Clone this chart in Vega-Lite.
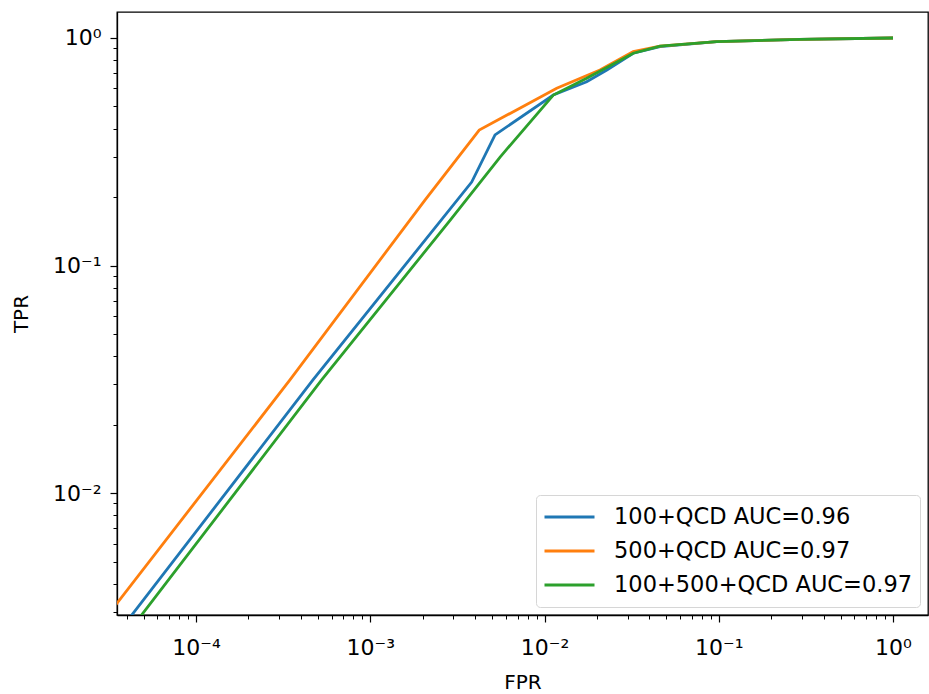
{
  "$schema": "https://vega.github.io/schema/vega-lite/v6.json",
  "width": 811,
  "height": 603,
  "autosize": {"type": "none"},
  "padding": {"left": 117, "top": 12, "right": 1, "bottom": 79},
  "background": "white",
  "config": {
    "font": "DejaVu Sans",
    "view": {"stroke": "black", "strokeWidth": 1.3},
    "axis": {"grid": false, "domainColor": "black", "domainWidth": 1.3, "tickColor": "black", "tickWidth": 1.2, "labelColor": "black", "titleColor": "black", "labelFont": "DejaVu Sans", "titleFont": "DejaVu Sans", "titleFontWeight": "normal"},
    "legend": {"labelFont": "DejaVu Sans"}
  },
  "data": {"values": [
    {"series": "100+QCD AUC=0.96", "k": 0, "fpr": 0.00004, "tpr": 0.00272},
    {"series": "100+QCD AUC=0.96", "k": 1, "fpr": 0.000469, "tpr": 0.0314},
    {"series": "100+QCD AUC=0.96", "k": 2, "fpr": 0.00382, "tpr": 0.2328},
    {"series": "100+QCD AUC=0.96", "k": 3, "fpr": 0.0052, "tpr": 0.375},
    {"series": "100+QCD AUC=0.96", "k": 4, "fpr": 0.01123, "tpr": 0.5616},
    {"series": "100+QCD AUC=0.96", "k": 5, "fpr": 0.01746, "tpr": 0.642},
    {"series": "100+QCD AUC=0.96", "k": 6, "fpr": 0.0228, "tpr": 0.723},
    {"series": "100+QCD AUC=0.96", "k": 7, "fpr": 0.0323, "tpr": 0.857},
    {"series": "100+QCD AUC=0.96", "k": 8, "fpr": 0.046, "tpr": 0.916},
    {"series": "100+QCD AUC=0.96", "k": 9, "fpr": 0.0973, "tpr": 0.963},
    {"series": "100+QCD AUC=0.96", "k": 10, "fpr": 0.292, "tpr": 0.987},
    {"series": "100+QCD AUC=0.96", "k": 11, "fpr": 1.0, "tpr": 1.0},
    {"series": "500+QCD AUC=0.97", "k": 0, "fpr": 0.00003, "tpr": 0.0028},
    {"series": "500+QCD AUC=0.97", "k": 1, "fpr": 0.000346, "tpr": 0.0314},
    {"series": "500+QCD AUC=0.97", "k": 2, "fpr": 0.00206, "tpr": 0.194},
    {"series": "500+QCD AUC=0.97", "k": 3, "fpr": 0.00422, "tpr": 0.394},
    {"series": "500+QCD AUC=0.97", "k": 4, "fpr": 0.01175, "tpr": 0.601},
    {"series": "500+QCD AUC=0.97", "k": 5, "fpr": 0.0208, "tpr": 0.723},
    {"series": "500+QCD AUC=0.97", "k": 6, "fpr": 0.0323, "tpr": 0.871},
    {"series": "500+QCD AUC=0.97", "k": 7, "fpr": 0.046, "tpr": 0.922},
    {"series": "500+QCD AUC=0.97", "k": 8, "fpr": 0.0973, "tpr": 0.963},
    {"series": "500+QCD AUC=0.97", "k": 9, "fpr": 0.292, "tpr": 0.987},
    {"series": "500+QCD AUC=0.97", "k": 10, "fpr": 1.0, "tpr": 1.0},
    {"series": "100+500+QCD AUC=0.97", "k": 0, "fpr": 0.00004, "tpr": 0.00239},
    {"series": "100+500+QCD AUC=0.97", "k": 1, "fpr": 0.000526, "tpr": 0.0314},
    {"series": "100+500+QCD AUC=0.97", "k": 2, "fpr": 0.00287, "tpr": 0.158},
    {"series": "100+500+QCD AUC=0.97", "k": 3, "fpr": 0.00556, "tpr": 0.2998},
    {"series": "100+500+QCD AUC=0.97", "k": 4, "fpr": 0.01123, "tpr": 0.5616},
    {"series": "100+500+QCD AUC=0.97", "k": 5, "fpr": 0.01746, "tpr": 0.665},
    {"series": "100+500+QCD AUC=0.97", "k": 6, "fpr": 0.0323, "tpr": 0.857},
    {"series": "100+500+QCD AUC=0.97", "k": 7, "fpr": 0.046, "tpr": 0.922},
    {"series": "100+500+QCD AUC=0.97", "k": 8, "fpr": 0.0973, "tpr": 0.963},
    {"series": "100+500+QCD AUC=0.97", "k": 9, "fpr": 0.292, "tpr": 0.987},
    {"series": "100+500+QCD AUC=0.97", "k": 10, "fpr": 1.0, "tpr": 1.0}
  ]},
  "layer": [
    {
      "mark": {"type": "line", "clip": true, "strokeWidth": 2.8},
      "encoding": {
        "x": {"field": "fpr", "type": "quantitative",
          "scale": {"type": "log", "domain": [0.0000352, 1.588], "nice": false, "zero": false},
          "axis": {"orient": "bottom", "title": "FPR", "titleFontSize": 20, "titlePadding": 14, "values": [0.0001, 0.001, 0.01, 0.1, 1], "tickSize": 7, "labelFontSize": 22, "labelPadding": 15,
            "labelExpr": "['10⁻⁴','10⁻³','10⁻²','10⁻¹','10⁰'][round(log(datum.value)/LN10)+4]"}},
        "y": {"field": "tpr", "type": "quantitative",
          "scale": {"type": "log", "domain": [0.00291, 1.301], "nice": false, "zero": false},
          "axis": {"orient": "left", "title": "TPR", "titleFontSize": 20, "titlePadding": 21, "values": [0.01, 0.1, 1], "tickSize": 7, "labelFontSize": 22, "labelPadding": 9,
            "labelExpr": "['10⁻²','10⁻¹','10⁰'][round(log(datum.value)/LN10)+2]"}},
        "color": {"field": "series", "type": "nominal",
          "scale": {"domain": ["100+QCD AUC=0.96", "500+QCD AUC=0.97", "100+500+QCD AUC=0.97"], "range": ["#1f77b4", "#ff7f0e", "#2ca02c"]},
          "legend": {"title": null, "orient": "bottom-right", "offset": 8, "symbolType": "stroke", "symbolSize": 2500, "symbolStrokeWidth": 3, "labelFontSize": 22.5, "labelOffset": 18, "labelLimit": 500, "clipHeight": 30, "rowPadding": 4, "padding": 7, "strokeColor": "#d6d6d6", "fillColor": "white", "cornerRadius": 4}},
        "order": {"field": "k", "type": "quantitative"}
      }
    },
    {
      "mark": {"type": "point", "opacity": 0, "clip": true},
      "encoding": {
        "x": {"field": "fpr", "type": "quantitative",
          "axis": {"orient": "bottom", "title": null, "labels": false, "domain": false, "tickSize": 4, "tickWidth": 1,
            "values": [0.00004, 0.00005, 0.00006, 0.00007, 0.00008, 0.00009, 0.0002, 0.0003, 0.0004, 0.0005, 0.0006, 0.0007, 0.0008, 0.0009, 0.002, 0.003, 0.004, 0.005, 0.006, 0.007, 0.008, 0.009, 0.02, 0.03, 0.04, 0.05, 0.06, 0.07, 0.08, 0.09, 0.2, 0.3, 0.4, 0.5, 0.6, 0.7, 0.8, 0.9]}},
        "y": {"field": "tpr", "type": "quantitative",
          "axis": {"orient": "left", "title": null, "labels": false, "domain": false, "tickSize": 4, "tickWidth": 1,
            "values": [0.003, 0.004, 0.005, 0.006, 0.007, 0.008, 0.009, 0.02, 0.03, 0.04, 0.05, 0.06, 0.07, 0.08, 0.09, 0.2, 0.3, 0.4, 0.5, 0.6, 0.7, 0.8, 0.9]}}
      }
    }
  ],
  "resolve": {"axis": {"x": "independent", "y": "independent"}}
}
